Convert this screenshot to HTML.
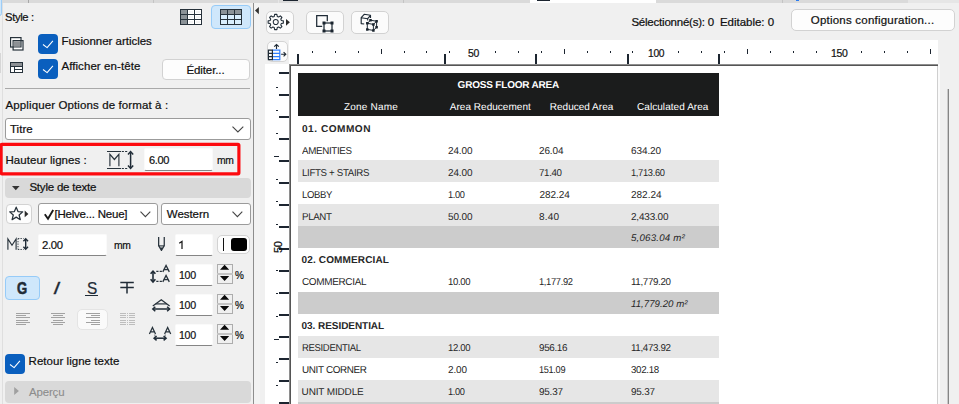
<!DOCTYPE html>
<html lang="fr">
<head>
<meta charset="utf-8">
<title>Schedule format options</title>
<style>
html,body{margin:0;padding:0;}
html{width:959px;height:404px;overflow:hidden;}
body{width:959px;height:404px;overflow:hidden;background:#f0f0f0;position:relative;
  font-family:"Liberation Sans",sans-serif;font-size:11.5px;color:#111;}
.a{position:absolute;box-sizing:border-box;}
.t{position:absolute;white-space:pre;line-height:12px;transform-origin:0 0;-webkit-text-stroke:0.22px currentColor;}
.k{position:absolute;background:#1c2530;display:block;}
.btn{position:absolute;box-sizing:border-box;background:#fdfdfd;border:1px solid #d2d2d2;border-radius:4px;}
.sel{position:absolute;box-sizing:border-box;background:#cce4f7;border:1px solid #a5cdf0;border-radius:4px;}
.dd{position:absolute;box-sizing:border-box;background:#fff;border:1px solid #9b9b9b;border-radius:3px;}
.inp{position:absolute;box-sizing:border-box;background:#fff;border:1px solid #fafafa;border-bottom:1px solid #858585;border-radius:2px;}
.cb{position:absolute;box-sizing:border-box;background:#0a5fbe;border-radius:4px;width:20px;height:20px;}
.bar{position:absolute;box-sizing:border-box;background:#d9d9d9;border-radius:4px;}
svg{position:absolute;overflow:visible;}
</style>
</head>
<body>

<!-- ===================== top strip ===================== -->
<div class="a" style="left:0;top:0;width:959px;height:3px;background:#dadada"></div>
<div class="a" style="left:-3px;top:-3px;width:5px;height:19px;background:#cfe7fb;border:1px solid #9dcdf7;border-radius:3px;z-index:2"></div>
<div class="a" style="left:28px;top:0;width:1px;height:3px;background:#a8a8a8"></div>
<div class="a" style="left:153px;top:0;width:1px;height:3px;background:#c4c4c4"></div>
<div class="a" style="left:278px;top:0;width:1px;height:3px;background:#e6e6e6"></div>
<div class="a" style="left:283px;top:0;width:15px;height:1px;background:#1c2530"></div>
<div class="a" style="left:403px;top:0;width:1px;height:3px;background:#c4c4c4"></div>
<div class="a" style="left:530px;top:0;width:126px;height:3px;background:#ffffff"></div>
<div class="a" style="left:537px;top:0;width:13px;height:1px;background:#1c2530"></div>
<div class="a" style="left:782px;top:0;width:1px;height:3px;background:#c4c4c4"></div>
<div class="a" style="left:796px;top:0;width:3px;height:1px;background:#2b7cf0"></div>
<div class="a" style="left:908px;top:0;width:51px;height:3px;background:#e6e6e6"></div>

<!-- ===================== left panel ===================== -->
<div class="a" style="left:2px;top:3px;width:1px;height:401px;background:#dfdfdf"></div>
<div class="a" style="left:0;top:53px;width:1px;height:20px;background:#d6d6d6"></div>

<!-- style icons -->
<svg style="left:180px;top:9px" width="22" height="16" viewBox="0 0 22 16" shape-rendering="crispEdges">
  <rect x="0" y="0" width="22" height="16" fill="#27323b"/>
  <rect x="1" y="1" width="6" height="4" fill="#8b9297"/>
  <rect x="8" y="1" width="6" height="4" fill="#ffffff"/>
  <rect x="9" y="2" width="4" height="2" fill="#f3f3f3"/>
  <rect x="15" y="1" width="6" height="4" fill="#ffffff"/>
  <rect x="16" y="2" width="4" height="2" fill="#f3f3f3"/>
  <rect x="1" y="6" width="6" height="4" fill="#8b9297"/>
  <rect x="8" y="6" width="6" height="4" fill="#ffffff"/>
  <rect x="9" y="7" width="4" height="2" fill="#f3f3f3"/>
  <rect x="15" y="6" width="6" height="4" fill="#ffffff"/>
  <rect x="16" y="7" width="4" height="2" fill="#f3f3f3"/>
  <rect x="1" y="11" width="6" height="4" fill="#8b9297"/>
  <rect x="8" y="11" width="6" height="4" fill="#ffffff"/>
  <rect x="9" y="12" width="4" height="2" fill="#f3f3f3"/>
  <rect x="15" y="11" width="6" height="4" fill="#ffffff"/>
  <rect x="16" y="12" width="4" height="2" fill="#f3f3f3"/>
</svg>
<div class="sel" style="left:211px;top:5px;width:40px;height:24px;border-radius:4px;background:#cfe7fb;border-color:#96cbf8"></div>
<svg style="left:220px;top:9px" width="22" height="16" viewBox="0 0 22 16" shape-rendering="crispEdges">
  <rect x="0" y="0" width="22" height="16" fill="#27323b"/>
  <rect x="1" y="1" width="6" height="4" fill="#8b9297"/>
  <rect x="8" y="1" width="6" height="4" fill="#8b9297"/>
  <rect x="15" y="1" width="6" height="4" fill="#8b9297"/>
  <rect x="1" y="6" width="6" height="4" fill="#d9eefd"/>
  <rect x="8" y="6" width="6" height="4" fill="#d9eefd"/>
  <rect x="15" y="6" width="6" height="4" fill="#d9eefd"/>
  <rect x="1" y="11" width="6" height="4" fill="#d9eefd"/>
  <rect x="8" y="11" width="6" height="4" fill="#d9eefd"/>
  <rect x="15" y="11" width="6" height="4" fill="#d9eefd"/>
</svg>

<!-- merge icon -->
<svg style="left:10px;top:36.5px" width="14" height="14" viewBox="0 0 14 14">
  <rect x="0.6" y="0.6" width="10.4" height="9.4" fill="#fff" stroke="#27323b" stroke-width="1.2"/>
  <rect x="3.1" y="3.6" width="9.9" height="9.4" fill="#fff" stroke="#27323b" stroke-width="1.2"/>
  <rect x="3.7" y="4.2" width="6.7" height="5.2" fill="#8d9195"/>
  <path d="M11 3.6V10H3.1" fill="none" stroke="#27323b" stroke-width="1.2"/>
</svg>
<div class="cb" style="left:38px;top:34px"></div>
<svg style="left:38px;top:34px" width="20" height="20" viewBox="0 0 20 20"><path d="M5 10.5L9.1 13.6L14.9 6.9" fill="none" stroke="#fff" stroke-width="1.05" stroke-linejoin="round"/></svg>

<!-- header icon -->
<svg style="left:10px;top:62px" width="13" height="11" viewBox="0 0 13 11" shape-rendering="crispEdges">
  <rect x="0" y="0" width="13" height="11" fill="#27323b"/>
  <rect x="1" y="1" width="11" height="3" fill="#8d9195"/>
  <rect x="1" y="5" width="3" height="5" fill="#fff"/>
  <rect x="5" y="5" width="7" height="2" fill="#fff"/>
  <rect x="5" y="8" width="7" height="2" fill="#fff"/>
</svg>
<div class="cb" style="left:38px;top:59px"></div>
<svg style="left:38px;top:59px" width="20" height="20" viewBox="0 0 20 20"><path d="M5 10.5L9.1 13.6L14.9 6.9" fill="none" stroke="#fff" stroke-width="1.05" stroke-linejoin="round"/></svg>

<div class="btn" style="left:162px;top:59px;width:88px;height:21px;"></div>

<div class="a" style="left:5px;top:88px;width:245px;height:1px;background:#a9a9a9"></div>

<div class="dd" style="left:4.5px;top:118px;width:246px;height:21.5px;"></div>
<svg style="left:232px;top:126px" width="12" height="7" viewBox="0 0 12 7"><path d="M0.5 0.7L5.9 6L11.3 0.7" fill="none" stroke="#444" stroke-width="1.1"/></svg>

<!-- red highlight -->
<svg style="left:0;top:140px" width="245" height="40" viewBox="0 0 245 40"><rect x="1.1" y="4.33" width="237.8" height="29.5" rx="1" fill="none" stroke="#fd0a0f" stroke-width="3.15"/></svg>

<!-- row height icon -->
<svg style="left:107px;top:151px" width="28" height="18" viewBox="0 0 28 18">
  <path d="M0 0.5H14M0 17.5H14" stroke="#27323b" stroke-width="1.1" fill="none"/>
  <path d="M14.8 0.5H16.9M18.1 0.5H20.2M14.8 17.5H16.9M18.1 17.5H20.2" stroke="#27323b" stroke-width="1.1" fill="none"/>
  <path d="M2.9 15.2V3.3L7.4 8.5L11.9 3.3V15.2" stroke="#27323b" fill="none" stroke-width="1.15"/>
  <path d="M23.6 1.4V16.6" stroke="#1f2b36" stroke-width="1.5" fill="none"/>
  <path d="M21 3.4L23.6 0.6L26.2 3.4M21 14.6L23.6 17.4L26.2 14.6" stroke="#1f2b36" stroke-width="1.5" fill="none"/>
</svg>
<div class="inp" style="left:144px;top:148.4px;width:69.4px;height:22.3px;"></div>

<!-- Style de texte bar -->
<div class="bar" style="left:4.5px;top:178px;width:246px;height:19.5px;"></div>
<svg style="left:12px;top:185.5px" width="8" height="5" viewBox="0 0 8 5"><path d="M0 0H7.6L3.8 4.2Z" fill="#333"/></svg>

<!-- font row -->
<div class="btn" style="left:6px;top:204px;width:25.5px;height:20px;"></div>
<svg style="left:8.5px;top:206px" width="22" height="16" viewBox="0 0 22 16">
  <path d="M7.2 1.2L9 5.6L13.7 5.9L10.1 9L11.3 13.7L7.2 11.1L3.1 13.7L4.3 9L0.7 5.9L5.4 5.6Z" fill="none" stroke="#27323b" stroke-width="1.25" stroke-linejoin="round"/>
  <path d="M15.7 4.6L19.4 7.95L15.7 11.3Z" fill="#2a2a2a"/>
</svg>
<div class="dd" style="left:38px;top:203px;width:119.5px;height:21.5px;"></div>
<svg style="left:43.5px;top:208.5px" width="11" height="11" viewBox="0 0 11 11"><path d="M0.8 5.3L4 9.7L9.2 1.1" fill="none" stroke="#1a1a1a" stroke-width="1.9"/></svg>
<svg style="left:139.5px;top:211px" width="11" height="7" viewBox="0 0 11 7"><path d="M0.5 0.7L5.4 5.6L10.3 0.7" fill="none" stroke="#444" stroke-width="1.1"/></svg>
<div class="dd" style="left:161px;top:203px;width:89.5px;height:21.5px;"></div>
<svg style="left:232px;top:211px" width="11" height="7" viewBox="0 0 11 7"><path d="M0.5 0.7L5.4 5.6L10.3 0.7" fill="none" stroke="#444" stroke-width="1.1"/></svg>

<!-- size row -->
<svg style="left:7px;top:238px" width="22" height="13" viewBox="0 0 22 13">
  <path d="M0.9 11.7V0.9L5 7.3L9.1 0.9V11.7" stroke="#27323b" fill="none" stroke-width="1.15"/>
  <path d="M11 0.5H16.6M11 11.5H16.6" stroke="#3a444d" fill="none" stroke-dasharray="1.3 1.2"/>
  <path d="M11 0.5V11.5" stroke="#3a444d" fill="none" stroke-dasharray="1.3 1.2"/>
  <path d="M18.7 1.2V10.8" stroke="#1f2b36" stroke-width="1.4" fill="none"/>
  <path d="M16.4 3.3L18.7 0.7L21 3.3M16.4 8.7L18.7 11.3L21 8.7" stroke="#1f2b36" stroke-width="1.4" fill="none"/>
</svg>
<div class="inp" style="left:38.3px;top:233.8px;width:69px;height:22px;"></div>
<!-- pen icon -->
<svg style="left:158px;top:237px" width="8" height="15" viewBox="0 0 8 15">
  <path d="M0.65 0V8.6L3.45 13.4L6.25 8.6V0" fill="none" stroke="#27323b" stroke-width="1.25" stroke-linejoin="round"/>
  <path d="M0.65 8.9H6.25" stroke="#27323b" stroke-width="1.1"/>
  <path d="M2.2 10.6H4.7L3.45 13.2Z" fill="#27323b"/>
</svg>
<div class="inp" style="left:174.6px;top:233.8px;width:38.6px;height:22px;"></div>
<div class="btn" style="left:217px;top:235.2px;width:32.7px;height:18.4px;border-radius:5px;"></div>
<div class="a" style="left:223px;top:238px;width:1px;height:13px;background:#111"></div>
<div class="a" style="left:230.8px;top:238px;width:16.5px;height:13.2px;background:#000;border-radius:3px"></div>

<svg style="left:179px;top:241px" width="5" height="9" viewBox="0 0 5 9"><path d="M0.2 2.3L3 0.5V8.1" fill="none" stroke="#1a1a1a" stroke-width="1.25"/></svg>
<!-- B I U S -->
<div class="sel" style="left:5.4px;top:276.1px;width:34.6px;height:23.6px;background:#cfe7fb;border-color:#96cbf8"></div>
<div class="a" style="left:85.3px;top:295px;width:12.8px;height:1px;background:#1f2b36"></div>
<svg style="left:120px;top:281px" width="14" height="13" viewBox="0 0 14 13"><path d="M0.3 1.5H13.8M0.3 6.5H13.8M7 1.5V12.6" stroke="#1f2b36" stroke-width="1.5" fill="none"/></svg>

<!-- spacing icons + inputs -->
<svg style="left:149.5px;top:265px" width="21" height="18" viewBox="0 0 21 18">
  <path d="M3 7V16" stroke="#1f2b36" stroke-width="1.6" fill="none"/>
  <path d="M0.6 8.8L3 6.1L5.4 8.8M0.6 14.3L3 17L5.4 14.3" stroke="#1f2b36" stroke-width="1.6" fill="none"/>
  <path d="M6.3 6.4H8.5M9.7 6.4H11.9M6.3 16.4H8.5M9.7 16.4H11.9" stroke="#27323b" stroke-width="1.1" fill="none"/>
  <path d="M12.8 6.9L16.05 0.5L19.3 6.9M13.9 4.7H18.2" stroke="#27323b" stroke-width="1.3" fill="none"/>
  <path d="M12.8 16.9L16.05 10.5L19.3 16.9M13.9 14.7H18.2" stroke="#27323b" stroke-width="1.3" fill="none"/>
</svg>
<div class="inp" style="left:174.6px;top:263.8px;width:38.6px;height:22px;"></div>
<div class="inp" style="left:174.6px;top:293.8px;width:38.6px;height:22px;"></div>
<div class="inp" style="left:174.6px;top:323.8px;width:38.6px;height:22px;"></div>

<svg style="left:151.5px;top:298.6px" width="19" height="13" viewBox="0 0 19 13">
  <path d="M0.8 7L9.3 0.7L17.6 7" stroke="#27323b" stroke-width="1.3" fill="none"/>
  <path d="M3.6 4.9H14.9" stroke="#27323b" stroke-width="1.2" fill="none"/>
  <path d="M1.2 10H17.2" stroke="#1f2b36" stroke-width="1.5" fill="none"/>
  <path d="M3.3 7.8L0.8 10L3.3 12.2M15.1 7.8L17.6 10L15.1 12.2" stroke="#1f2b36" stroke-width="1.5" fill="none"/>
</svg>
<svg style="left:148.8px;top:327.3px" width="23" height="15" viewBox="0 0 23 15">
  <path d="M0.4 7L3.45 0.5L6.5 7M1.4 4.8H5.5" stroke="#27323b" stroke-width="1.25" fill="none"/>
  <path d="M15.6 7L18.65 0.5L21.7 7M16.6 4.8H20.7" stroke="#27323b" stroke-width="1.25" fill="none"/>
  <path d="M5.9 7.6V10M16.2 7.6V10" stroke="#3a444d" stroke-dasharray="1.1 1" fill="none"/>
  <path d="M5.6 11.2H16.6" stroke="#1f2b36" stroke-width="1.5" fill="none"/>
  <path d="M7.6 9L5.1 11.2L7.6 13.4M14.6 9L17.1 11.2L14.6 13.4" stroke="#1f2b36" stroke-width="1.5" fill="none"/>
</svg>

<!-- spinners -->
<div class="a" style="left:217px;top:264px;width:16px;height:20px;background:#f0f0f0;border:1px solid #adadad"></div>
<div class="a" style="left:217px;top:273px;width:16px;height:2px;background:#c4c4c4"></div>
<svg style="left:219.8px;top:264px" width="10" height="18" viewBox="0 0 10 18"><path d="M0 5.7L4.6 0.8L9.2 5.7ZM0 11.9L4.6 16.9L9.2 11.9Z" fill="#0a0a0a"/></svg>
<div class="a" style="left:217px;top:294px;width:16px;height:20px;background:#f0f0f0;border:1px solid #adadad"></div>
<div class="a" style="left:217px;top:303px;width:16px;height:2px;background:#c4c4c4"></div>
<svg style="left:219.8px;top:294px" width="10" height="18" viewBox="0 0 10 18"><path d="M0 5.7L4.6 0.8L9.2 5.7ZM0 11.9L4.6 16.9L9.2 11.9Z" fill="#0a0a0a"/></svg>
<div class="a" style="left:217px;top:324px;width:16px;height:20px;background:#f0f0f0;border:1px solid #adadad"></div>
<div class="a" style="left:217px;top:333px;width:16px;height:2px;background:#c4c4c4"></div>
<svg style="left:219.8px;top:324px" width="10" height="18" viewBox="0 0 10 18"><path d="M0 5.7L4.6 0.8L9.2 5.7ZM0 11.9L4.6 16.9L9.2 11.9Z" fill="#0a0a0a"/></svg>

<!-- align icons -->
<svg style="left:16px;top:313.4px" width="15" height="12" viewBox="0 0 15 12" shape-rendering="crispEdges"><path d="M0 0.5H14M0 2.7H9.5M0 4.9H14M0 7.1H12M0 9.3H14M0 11.5H9.5" stroke="#a2a2a2" stroke-width="1" fill="none"/></svg>
<svg style="left:51px;top:313.4px" width="15" height="12" viewBox="0 0 15 12" shape-rendering="crispEdges"><path d="M0 0.5H14M2 2.7H12M0 4.9H14M2 7.1H12M0 9.3H14M2 11.5H12" stroke="#a2a2a2" stroke-width="1" fill="none"/></svg>
<div class="btn" style="left:77px;top:309px;width:31px;height:21px;background:#fafafa;border-color:#e4e4e4;border-radius:5px"></div>
<svg style="left:86px;top:313.4px" width="15" height="12" viewBox="0 0 15 12" shape-rendering="crispEdges"><path d="M0 0.5H14M4.5 2.7H14M0 4.9H14M4.5 7.1H14M0 9.3H14M4.5 11.5H14" stroke="#a2a2a2" stroke-width="1" fill="none"/></svg>
<svg style="left:120px;top:313.4px" width="15" height="12" viewBox="0 0 15 12" shape-rendering="crispEdges"><path d="M0 0.5H6M9 0.5H15M0 2.7H6M9 2.7H15M0 4.9H6M9 4.9H15M0 7.1H6M9 7.1H15M0 9.3H6M9 9.3H15M0 11.5H6M9 11.5H15" stroke="#bdbdbd" stroke-width="1" fill="none"/><path d="M7.5 0V12" stroke="#bdbdbd" stroke-dasharray="1 1.2" fill="none"/></svg>

<!-- wrap checkbox -->
<div class="cb" style="left:5px;top:354px"></div>
<svg style="left:5px;top:354px" width="20" height="20" viewBox="0 0 20 20"><path d="M5 10.5L9.1 13.6L14.9 6.9" fill="none" stroke="#fff" stroke-width="1.05" stroke-linejoin="round"/></svg>

<!-- Apercu bar -->
<div class="bar" style="left:4.5px;top:381px;width:246px;height:22px;background:#d9d9d9"></div>
<svg style="left:13.5px;top:387.4px" width="6" height="9" viewBox="0 0 6 9"><path d="M0.2 0.1L4.9 4.1L0.2 8.1Z" fill="#a0a0a0"/></svg>

<!-- panel splitter -->
<div class="a" style="left:253px;top:3px;width:1px;height:401px;background:#8e8e8e"></div>

<div class="a" style="left:254px;top:3px;width:6.3px;height:401px;background:#f3f3f3"></div>
<svg style="left:255px;top:6.9px" width="5" height="8" viewBox="0 0 5 8"><path d="M3.9 0V7.2L0 3.6Z" fill="#333"/></svg>

<!-- ===================== right toolbar ===================== -->
<div class="btn" style="left:266.2px;top:11.1px;width:27.4px;height:22.6px;background:#fbfbfb;border-radius:5px"></div>
<svg style="left:266px;top:11px" width="28" height="23" viewBox="0 0 28 23">
  <g transform="translate(9.75 11)" fill="none" stroke="#1f2b36" stroke-width="1.05" stroke-linejoin="round">
    <circle r="2.5"/>
    <path d="M-1.50 -5.60L-1.14 -7.62L1.14 -7.62L1.50 -5.60L2.90 -5.02L4.58 -6.19L6.19 -4.58L5.02 -2.90L5.60 -1.50L7.62 -1.14L7.62 1.14L5.60 1.50L5.02 2.90L6.19 4.58L4.58 6.19L2.90 5.02L1.50 5.60L1.14 7.62L-1.14 7.62L-1.50 5.60L-2.90 5.02L-4.58 6.19L-6.19 4.58L-5.02 2.90L-5.60 1.50L-7.62 1.14L-7.62 -1.14L-5.60 -1.50L-5.02 -2.90L-6.19 -4.58L-4.58 -6.19L-2.90 -5.02Z"/>
  </g>
  <path d="M20 7.9L23.9 11.35L20 14.8Z" fill="#2a2a2a"/>
</svg>

<div class="btn" style="left:306.2px;top:11.1px;width:37.6px;height:22.6px;background:#fbfbfb;border-radius:5px"></div>
<svg style="left:315.5px;top:14.5px" width="18" height="18" viewBox="0 0 18 18">
  <path d="M6.2 11.3H0.7V0.5H11.3V6.3" fill="none" stroke="#1f2b36" stroke-width="1.25"/>
  <rect x="8" y="8" width="8" height="8" fill="none" stroke="#1f2b36" stroke-width="1.25"/>
  <path d="M6.5 6.5h3v3h-3zM14.5 6.5h3v3h-3zM6.5 14.5h3v3h-3zM14.5 14.5h3v3h-3z" fill="#1a242e"/>
</svg>

<div class="btn" style="left:351.3px;top:11.1px;width:37.4px;height:22.6px;background:#fbfbfb;border-radius:5px"></div>
<svg style="left:360px;top:13px" width="19" height="19" viewBox="0 0 19 19">
  <path d="M4.2 11L1.2 10.6V4.7L4.2 1.3L10.5 2.3L7.7 5.7L1.2 4.7M10.5 2.3V4.9M7.7 5.7V7.6" fill="none" stroke="#1f2b36" stroke-width="1.15" stroke-linejoin="round"/>
  <path d="M7.3 10.3L13.4 11.4M10.5 7.25L16.6 8.2M7.3 10.3L10.5 7.25M13.4 11.4L16.6 8.2M7.3 10.3V16.4M13.4 11.4V17.4M16.6 8.2V14.2M7.3 16.4L13.4 17.4L16.6 14.2" fill="none" stroke="#1f2b36" stroke-width="1"/>
  <path d="M9.25 6h2.5v2.5h-2.5zM15.35 6.95h2.5v2.5h-2.5zM6.05 9.05h2.5v2.5h-2.5zM12.15 10.15h2.5v2.5h-2.5zM15.35 12.95h2.5v2.5h-2.5zM6.05 15.15h2.5v2.5h-2.5zM12.15 16.15h2.5v2.5h-2.5z" fill="#1a242e"/>
</svg>

<div class="btn" style="left:791px;top:9px;width:163.5px;height:21.5px;background:#fdfdfd;border-radius:5px"></div>

<!-- ===================== ruler + page ===================== -->
<div class="a" style="left:289px;top:40px;width:649px;height:25px;background:#fff"></div>
<div class="a" style="left:265px;top:64px;width:25px;height:340px;background:#fff"></div>
<!-- page -->
<div class="a" style="left:289px;top:64px;width:649px;height:340px;background:#8e8e8e"></div>
<div class="a" style="left:290px;top:65px;width:648px;height:339px;background:#555"></div>
<div class="a" style="left:291px;top:66px;width:647px;height:338px;background:#fff;border-right:1px solid #cfcfcf"></div>
<div class="a" style="left:938px;top:64px;width:2.4px;height:340px;background:#fafafa"></div>
<!-- scrollbar thumb -->
<div class="a" style="left:947px;top:89px;width:1px;height:315px;background:#c9c9c9"></div>
<div class="a" style="left:948px;top:89px;width:1px;height:315px;background:#858585"></div>

<div class="btn" style="left:266.5px;top:41.3px;width:21.2px;height:21.2px;background:#fbfbfb;border-color:#d4d4d4;border-radius:5px"></div>
<svg style="left:268px;top:44px" width="19" height="17" viewBox="0 0 19 17">
  <path d="M4.4 6.2H11.8V15.7H4.4M4.4 9.4H11.8M4.4 12.6H11.8" stroke="#2f7fff" stroke-width="1.2" fill="none"/>
  <path d="M0.4 6.2H4.4V15.7H0.4ZM0.4 9.4H4.4M0.4 12.6H4.4" stroke="#1f2b36" stroke-width="1.2" fill="none"/>
  <path d="M8.5 4.9V0.8M6.2 2.7L8.5 0.6L10.8 2.7" stroke="#1f2b36" stroke-width="1.15" fill="none"/>
  <path d="M13.1 10.2H17.5M15.6 8.1L17.8 10.2L15.6 12.3" stroke="#1f2b36" stroke-width="1.15" fill="none"/>
</svg>

<i class="k" style="left:312px;top:51px;width:1px;height:2px"></i>
<i class="k" style="left:335px;top:51px;width:1px;height:2px"></i>
<i class="k" style="left:358px;top:51px;width:1px;height:2px"></i>
<i class="k" style="left:381px;top:49px;width:1px;height:5px"></i>
<i class="k" style="left:404px;top:51px;width:1px;height:2px"></i>
<i class="k" style="left:426px;top:51px;width:1px;height:2px"></i>
<i class="k" style="left:449px;top:51px;width:1px;height:2px"></i>
<i class="k" style="left:495px;top:51px;width:1px;height:2px"></i>
<i class="k" style="left:518px;top:51px;width:1px;height:2px"></i>
<i class="k" style="left:541px;top:51px;width:1px;height:2px"></i>
<i class="k" style="left:564px;top:49px;width:1px;height:5px"></i>
<i class="k" style="left:587px;top:51px;width:1px;height:2px"></i>
<i class="k" style="left:610px;top:51px;width:1px;height:2px"></i>
<i class="k" style="left:632px;top:51px;width:1px;height:2px"></i>
<i class="k" style="left:678px;top:51px;width:1px;height:2px"></i>
<i class="k" style="left:701px;top:51px;width:1px;height:2px"></i>
<i class="k" style="left:724px;top:51px;width:1px;height:2px"></i>
<i class="k" style="left:747px;top:49px;width:1px;height:5px"></i>
<i class="k" style="left:770px;top:51px;width:1px;height:2px"></i>
<i class="k" style="left:793px;top:51px;width:1px;height:2px"></i>
<i class="k" style="left:816px;top:51px;width:1px;height:2px"></i>
<i class="k" style="left:861px;top:51px;width:1px;height:2px"></i>
<i class="k" style="left:884px;top:51px;width:1px;height:2px"></i>
<i class="k" style="left:907px;top:51px;width:1px;height:2px"></i>
<i class="k" style="left:930px;top:49px;width:1px;height:5px"></i>
<i class="k" style="left:297px;top:54px;width:2px;height:10px"></i>
<i class="k" style="left:444px;top:54px;width:2px;height:10px"></i>
<i class="k" style="left:535px;top:54px;width:2px;height:10px"></i>
<i class="k" style="left:627px;top:54px;width:2px;height:10px"></i>
<i class="k" style="left:718px;top:54px;width:2px;height:10px"></i>
<i class="k" style="left:276px;top:87px;width:2px;height:1px"></i>
<i class="k" style="left:276px;top:110px;width:2px;height:1px"></i>
<i class="k" style="left:276px;top:133px;width:2px;height:1px"></i>
<i class="k" style="left:274px;top:156px;width:5px;height:1px"></i>
<i class="k" style="left:276px;top:179px;width:2px;height:1px"></i>
<i class="k" style="left:276px;top:201px;width:2px;height:1px"></i>
<i class="k" style="left:276px;top:224px;width:2px;height:1px"></i>
<i class="k" style="left:276px;top:270px;width:2px;height:1px"></i>
<i class="k" style="left:276px;top:293px;width:2px;height:1px"></i>
<i class="k" style="left:276px;top:316px;width:2px;height:1px"></i>
<i class="k" style="left:274px;top:339px;width:5px;height:1px"></i>
<i class="k" style="left:276px;top:362px;width:2px;height:1px"></i>
<i class="k" style="left:276px;top:385px;width:2px;height:1px"></i>
<i class="k" style="left:279px;top:72px;width:10.3px;height:2px"></i>
<i class="k" style="left:279px;top:94px;width:10.3px;height:2px"></i>
<i class="k" style="left:279px;top:116px;width:10.3px;height:2px"></i>
<i class="k" style="left:279px;top:138px;width:10.3px;height:2px"></i>
<i class="k" style="left:279px;top:160px;width:10.3px;height:2px"></i>
<i class="k" style="left:279px;top:182px;width:10.3px;height:2px"></i>
<i class="k" style="left:279px;top:204px;width:10.3px;height:2px"></i>
<i class="k" style="left:279px;top:226px;width:10.3px;height:2px"></i>
<i class="k" style="left:279px;top:248px;width:10.3px;height:2px"></i>
<i class="k" style="left:279px;top:270px;width:10.3px;height:2px"></i>
<i class="k" style="left:279px;top:292px;width:10.3px;height:2px"></i>
<i class="k" style="left:279px;top:314px;width:10.3px;height:2px"></i>
<i class="k" style="left:279px;top:336px;width:10.3px;height:2px"></i>
<i class="k" style="left:279px;top:358px;width:10.3px;height:2px"></i>
<i class="k" style="left:279px;top:380px;width:10.3px;height:2px"></i>
<i class="k" style="left:279px;top:402px;width:10.3px;height:2px"></i>
<!-- vertical 50 label -->
<div class="t" style="left:272.9px;top:241.6px;width:11px;height:11px;font-size:11px;line-height:11px;transform:rotate(-90deg);transform-origin:50% 50%;text-align:center;letter-spacing:-0.4px">50</div>

<!-- ===================== table ===================== -->
<div style="position:absolute;left:298.0px;top:73.0px;width:421.0px;height:43.0px;background:#1b1c1c"></div>
<div style="position:absolute;left:298px;top:160px;width:421px;height:22px;background:#e6e6e6"></div>
<div style="position:absolute;left:298px;top:204px;width:421px;height:22px;background:#e6e6e6"></div>
<div style="position:absolute;left:298px;top:226px;width:421px;height:22px;background:#cccccc"></div>
<div style="position:absolute;left:298px;top:292px;width:421px;height:22px;background:#cccccc"></div>
<div style="position:absolute;left:298px;top:336px;width:421px;height:22px;background:#e6e6e6"></div>
<div style="position:absolute;left:298px;top:380px;width:421px;height:22px;background:#e6e6e6"></div>
<div style="position:absolute;left:298px;top:402px;width:421px;height:2px;background:#cccccc"></div>

<span class="t" style="left:5.4px;top:11.0px;letter-spacing:-0.350px;transform:scaleX(0.9776);">Style :</span>
<span class="t" style="left:61.4px;top:35.0px;letter-spacing:-0.020px;">Fusionner articles</span>
<span class="t" style="left:61.4px;top:60.0px;letter-spacing:0.076px;">Afficher en-tête</span>
<span class="t" style="left:186.4px;top:64.0px;letter-spacing:-0.089px;">Éditer...</span>
<span class="t" style="left:5.5px;top:99.0px;letter-spacing:0.114px;">Appliquer Options de format à :</span>
<span class="t" style="left:10.0px;top:123.0px;letter-spacing:0.024px;">Titre</span>
<span class="t" style="left:5.5px;top:154.0px;letter-spacing:0.041px;">Hauteur lignes :</span>
<span class="t" style="left:148.5px;top:154.0px;letter-spacing:-0.350px;transform:scaleX(0.9606);">6.00</span>
<span class="t" style="left:216.7px;top:154.0px;letter-spacing:-0.350px;transform:scaleX(0.8979);">mm</span>
<span class="t" style="left:29.4px;top:181.0px;letter-spacing:-0.206px;">Style de texte</span>
<span class="t" style="left:54.5px;top:208.0px;letter-spacing:-0.219px;">[Helve... Neue]</span>
<span class="t" style="left:166.8px;top:208.0px;letter-spacing:-0.058px;">Western</span>
<span class="t" style="left:41.7px;top:239.0px;letter-spacing:-0.348px;transform:scaleX(0.9837);">2.00</span>
<span class="t" style="left:113.6px;top:239.0px;letter-spacing:-0.350px;transform:scaleX(0.8979);">mm</span>
<span class="t" style="left:178.8px;top:269.0px;letter-spacing:-0.350px;transform:scaleX(0.9249);">100</span>
<span class="t" style="left:178.8px;top:299.0px;letter-spacing:-0.350px;transform:scaleX(0.9249);">100</span>
<span class="t" style="left:178.8px;top:329.0px;letter-spacing:-0.350px;transform:scaleX(0.9249);">100</span>
<span class="t" style="left:235.0px;top:269.0px;transform:scaleX(0.8696);">%</span>
<span class="t" style="left:235.0px;top:299.0px;transform:scaleX(0.8696);">%</span>
<span class="t" style="left:235.0px;top:329.0px;transform:scaleX(0.8696);">%</span>
<span class="t" style="left:28.6px;top:355.0px;letter-spacing:0.037px;">Retour ligne texte</span>
<span class="t" style="left:29.4px;top:386.0px;letter-spacing:-0.156px;transform:scaleX(0.9956);color:#8c8c8c;-webkit-text-stroke:0.1px #8c8c8c;">Aperçu</span>
<span class="t" style="left:16.6px;top:279.0px;font-size:16.5px;line-height:18px;transform:scaleX(0.7942);font-weight:bold;color:#1f2b36;-webkit-text-stroke:0.55px #1f2b36;">G</span>
<span class="t" style="left:54.2px;top:279.0px;font-size:16.5px;line-height:18px;font-style:italic;font-weight:bold;color:#1f2b36;-webkit-text-stroke:0.3px #1f2b36;">/</span>
<span class="t" style="left:86.5px;top:279.0px;font-size:16.5px;line-height:18px;transform:scaleX(0.9350);color:#1f2b36;">S</span>
<span class="t" style="left:631.4px;top:16.0px;letter-spacing:-0.217px;">Sélectionné(s): 0</span>
<span class="t" style="left:719.9px;top:16.0px;letter-spacing:-0.014px;">Editable: 0</span>
<span class="t" style="left:810.8px;top:14.0px;letter-spacing:0.218px;">Options configuration...</span>
<span class="t" style="left:467.5px;top:47.0px;font-size:11px;line-height:12px;letter-spacing:-0.350px;transform:scaleX(0.9496);">50</span>
<span class="t" style="left:648.0px;top:47.0px;font-size:11px;line-height:12px;letter-spacing:-0.350px;transform:scaleX(0.9343);">100</span>
<span class="t" style="left:831.0px;top:47.0px;font-size:11px;line-height:12px;letter-spacing:-0.350px;transform:scaleX(0.9513);">150</span>
<span class="t" style="left:457.6px;top:80.0px;font-size:10px;line-height:11px;letter-spacing:-0.196px;font-weight:bold;color:#fff;-webkit-text-stroke:0;text-rendering:geometricPrecision;">GROSS FLOOR AREA</span>
<span class="t" style="left:344.0px;top:102.0px;font-size:10px;line-height:11px;letter-spacing:0.194px;color:#fff;-webkit-text-stroke:0;text-rendering:geometricPrecision;">Zone Name</span>
<span class="t" style="left:449.8px;top:102.0px;font-size:10px;line-height:11px;letter-spacing:0.026px;color:#fff;-webkit-text-stroke:0;text-rendering:geometricPrecision;">Area Reducement</span>
<span class="t" style="left:549.8px;top:102.0px;font-size:10px;line-height:11px;letter-spacing:0.009px;color:#fff;-webkit-text-stroke:0;text-rendering:geometricPrecision;">Reduced Area</span>
<span class="t" style="left:637.0px;top:102.0px;font-size:10px;line-height:11px;letter-spacing:0.059px;color:#fff;-webkit-text-stroke:0;text-rendering:geometricPrecision;">Calculated Area</span>
<span class="t" style="left:301.6px;top:124.0px;font-size:10px;line-height:11px;letter-spacing:0.516px;transform:scaleX(1.0076);font-weight:bold;color:#262626;-webkit-text-stroke:0;text-rendering:geometricPrecision;">01. COMMON</span>
<span class="t" style="left:301.6px;top:146.0px;font-size:10px;line-height:11px;letter-spacing:-0.350px;transform:scaleX(0.9784);color:#262626;-webkit-text-stroke:0;text-rendering:geometricPrecision;">AMENITIES</span>
<span class="t" style="left:448.0px;top:146.0px;font-size:10px;line-height:11px;letter-spacing:-0.106px;transform:scaleX(0.9957);color:#262626;-webkit-text-stroke:0;text-rendering:geometricPrecision;">24.00</span>
<span class="t" style="left:539.4px;top:146.0px;font-size:10px;line-height:11px;letter-spacing:-0.106px;transform:scaleX(0.9957);color:#262626;-webkit-text-stroke:0;text-rendering:geometricPrecision;">26.04</span>
<span class="t" style="left:631.0px;top:146.0px;font-size:10px;line-height:11px;letter-spacing:-0.099px;color:#262626;-webkit-text-stroke:0;text-rendering:geometricPrecision;">634.20</span>
<span class="t" style="left:301.6px;top:168.0px;font-size:10px;line-height:11px;letter-spacing:-0.350px;transform:scaleX(0.9719);color:#262626;-webkit-text-stroke:0;text-rendering:geometricPrecision;">LIFTS + STAIRS</span>
<span class="t" style="left:448.0px;top:168.0px;font-size:10px;line-height:11px;letter-spacing:-0.106px;transform:scaleX(0.9957);color:#262626;-webkit-text-stroke:0;text-rendering:geometricPrecision;">24.00</span>
<span class="t" style="left:539.4px;top:168.0px;font-size:10px;line-height:11px;letter-spacing:-0.350px;transform:scaleX(0.9733);color:#262626;-webkit-text-stroke:0;text-rendering:geometricPrecision;">71.40</span>
<span class="t" style="left:631.0px;top:168.0px;font-size:10px;line-height:11px;letter-spacing:-0.350px;transform:scaleX(0.9318);color:#262626;-webkit-text-stroke:0;text-rendering:geometricPrecision;">1,713.60</span>
<span class="t" style="left:301.6px;top:190.0px;font-size:10px;line-height:11px;letter-spacing:-0.350px;transform:scaleX(0.9543);color:#262626;-webkit-text-stroke:0;text-rendering:geometricPrecision;">LOBBY</span>
<span class="t" style="left:448.0px;top:190.0px;font-size:10px;line-height:11px;letter-spacing:-0.350px;transform:scaleX(0.9230);color:#262626;-webkit-text-stroke:0;text-rendering:geometricPrecision;">1.00</span>
<span class="t" style="left:539.4px;top:190.0px;font-size:10px;line-height:11px;letter-spacing:-0.016px;color:#262626;-webkit-text-stroke:0;text-rendering:geometricPrecision;">282.24</span>
<span class="t" style="left:631.0px;top:190.0px;font-size:10px;line-height:11px;letter-spacing:-0.016px;color:#262626;-webkit-text-stroke:0;text-rendering:geometricPrecision;">282.24</span>
<span class="t" style="left:301.6px;top:212.0px;font-size:10px;line-height:11px;letter-spacing:-0.350px;transform:scaleX(0.9729);color:#262626;-webkit-text-stroke:0;text-rendering:geometricPrecision;">PLANT</span>
<span class="t" style="left:448.0px;top:212.0px;font-size:10px;line-height:11px;letter-spacing:-0.106px;transform:scaleX(0.9957);color:#262626;-webkit-text-stroke:0;text-rendering:geometricPrecision;">50.00</span>
<span class="t" style="left:539.4px;top:212.0px;font-size:10px;line-height:11px;letter-spacing:0.133px;transform:scaleX(1.0067);color:#262626;-webkit-text-stroke:0;text-rendering:geometricPrecision;">8.40</span>
<span class="t" style="left:631.0px;top:212.0px;font-size:10px;line-height:11px;letter-spacing:-0.180px;transform:scaleX(0.9952);color:#262626;-webkit-text-stroke:0;text-rendering:geometricPrecision;">2,433.00</span>
<span class="t" style="left:631.0px;top:233.0px;font-size:9.7px;line-height:11px;letter-spacing:0.209px;font-style:italic;color:#262626;-webkit-text-stroke:0;text-rendering:geometricPrecision;">5,063.04 m²</span>
<span class="t" style="left:301.6px;top:255.0px;font-size:10px;line-height:11px;letter-spacing:0.138px;font-weight:bold;color:#262626;-webkit-text-stroke:0;text-rendering:geometricPrecision;">02. COMMERCIAL</span>
<span class="t" style="left:301.6px;top:277.0px;font-size:10px;line-height:11px;letter-spacing:-0.330px;transform:scaleX(0.9949);color:#262626;-webkit-text-stroke:0;text-rendering:geometricPrecision;">COMMERCIAL</span>
<span class="t" style="left:448.0px;top:277.0px;font-size:10px;line-height:11px;letter-spacing:-0.350px;transform:scaleX(0.9521);color:#262626;-webkit-text-stroke:0;text-rendering:geometricPrecision;">10.00</span>
<span class="t" style="left:539.4px;top:277.0px;font-size:10px;line-height:11px;letter-spacing:-0.350px;transform:scaleX(0.9318);color:#262626;-webkit-text-stroke:0;text-rendering:geometricPrecision;">1,177.92</span>
<span class="t" style="left:631.0px;top:277.0px;font-size:10px;line-height:11px;letter-spacing:-0.350px;transform:scaleX(0.9768);color:#262626;-webkit-text-stroke:0;text-rendering:geometricPrecision;">11,779.20</span>
<span class="t" style="left:631.0px;top:299.0px;font-size:9.7px;line-height:11px;letter-spacing:0.010px;font-style:italic;color:#262626;-webkit-text-stroke:0;text-rendering:geometricPrecision;">11,779.20 m²</span>
<span class="t" style="left:301.6px;top:321.0px;font-size:10px;line-height:11px;letter-spacing:-0.057px;font-weight:bold;color:#262626;-webkit-text-stroke:0;text-rendering:geometricPrecision;">03. RESIDENTIAL</span>
<span class="t" style="left:301.6px;top:343.0px;font-size:10px;line-height:11px;letter-spacing:-0.350px;transform:scaleX(0.9504);color:#262626;-webkit-text-stroke:0;text-rendering:geometricPrecision;">RESIDENTIAL</span>
<span class="t" style="left:448.0px;top:343.0px;font-size:10px;line-height:11px;letter-spacing:-0.350px;transform:scaleX(0.9521);color:#262626;-webkit-text-stroke:0;text-rendering:geometricPrecision;">12.00</span>
<span class="t" style="left:539.4px;top:343.0px;font-size:10px;line-height:11px;letter-spacing:-0.349px;transform:scaleX(0.9879);color:#262626;-webkit-text-stroke:0;text-rendering:geometricPrecision;">956.16</span>
<span class="t" style="left:631.0px;top:343.0px;font-size:10px;line-height:11px;letter-spacing:-0.350px;transform:scaleX(0.9768);color:#262626;-webkit-text-stroke:0;text-rendering:geometricPrecision;">11,473.92</span>
<span class="t" style="left:301.6px;top:365.0px;font-size:10px;line-height:11px;letter-spacing:-0.350px;transform:scaleX(0.9884);color:#262626;-webkit-text-stroke:0;text-rendering:geometricPrecision;">UNIT CORNER</span>
<span class="t" style="left:448.0px;top:365.0px;font-size:10px;line-height:11px;letter-spacing:-0.117px;transform:scaleX(0.9939);color:#262626;-webkit-text-stroke:0;text-rendering:geometricPrecision;">2.00</span>
<span class="t" style="left:539.4px;top:365.0px;font-size:10px;line-height:11px;letter-spacing:-0.350px;transform:scaleX(0.9187);color:#262626;-webkit-text-stroke:0;text-rendering:geometricPrecision;">151.09</span>
<span class="t" style="left:631.0px;top:365.0px;font-size:10px;line-height:11px;letter-spacing:-0.350px;transform:scaleX(0.9777);color:#262626;-webkit-text-stroke:0;text-rendering:geometricPrecision;">302.18</span>
<span class="t" style="left:301.6px;top:387.0px;font-size:10px;line-height:11px;letter-spacing:-0.156px;color:#262626;-webkit-text-stroke:0;text-rendering:geometricPrecision;">UNIT MIDDLE</span>
<span class="t" style="left:448.0px;top:387.0px;font-size:10px;line-height:11px;letter-spacing:-0.350px;transform:scaleX(0.9230);color:#262626;-webkit-text-stroke:0;text-rendering:geometricPrecision;">1.00</span>
<span class="t" style="left:539.4px;top:387.0px;font-size:10px;line-height:11px;letter-spacing:-0.206px;transform:scaleX(0.9915);color:#262626;-webkit-text-stroke:0;text-rendering:geometricPrecision;">95.37</span>
<span class="t" style="left:631.0px;top:387.0px;font-size:10px;line-height:11px;letter-spacing:-0.206px;transform:scaleX(0.9915);color:#262626;-webkit-text-stroke:0;text-rendering:geometricPrecision;">95.37</span>

</body>
</html>
